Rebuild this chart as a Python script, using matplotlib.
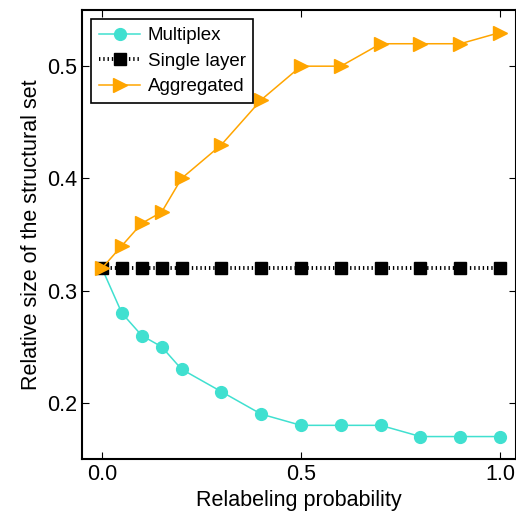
import matplotlib.pyplot as plt

plt.rcParams["font.family"] = ["Liberation Sans", "DejaVu Sans"]

# Data
prob = [0.0, 0.05, 0.1, 0.15, 0.2, 0.3, 0.4, 0.5, 0.6, 0.7, 0.8, 0.9, 1.0]
multiplex = [0.32, 0.28, 0.26, 0.25, 0.23, 0.21, 0.19, 0.18, 0.18, 0.18, 0.17, 0.17, 0.17]
single_layer = [0.32, 0.32, 0.32, 0.32, 0.32, 0.32, 0.32, 0.32, 0.32, 0.32, 0.32, 0.32, 0.32]
aggregated = [0.32, 0.34, 0.36, 0.37, 0.40, 0.43, 0.47, 0.50, 0.50, 0.52, 0.52, 0.52, 0.53]

fig = plt.figure(figsize=(5.16, 5.19), dpi=100)
ax = fig.add_axes([0.159, 0.1156, 0.841, 0.865])

ax.plot(prob, multiplex, color="#40e0d0", marker="o", markersize=8.5,
        linewidth=1.1, label="Multiplex")
ax.plot(prob, single_layer, color="black", marker="s", markersize=8.5,
        linestyle=(0, (0.35, 0.75)), linewidth=2.8, label="Single layer")
ax.plot(prob, aggregated, color="orange", marker=">", markersize=9.5,
        linewidth=1.1, label="Aggregated")

ax.set_xlim(-0.05, 1.04)
ax.set_ylim(0.15, 0.55)
ax.set_xticks([0.0, 0.5, 1.0])
ax.set_yticks([0.2, 0.3, 0.4, 0.5])
ax.tick_params(direction="in", top=True, right=True, labelsize=15.5, length=5)
ax.set_xlabel("Relabeling probability", fontsize=15.5)
ax.set_ylabel("Relative size of the structural set", fontsize=15.5)
for s in ax.spines.values():
    s.set_linewidth(1.5)

leg = ax.legend(loc="upper left", fontsize=13.5, fancybox=False,
                edgecolor="black", framealpha=1, borderaxespad=0.5,
                handlelength=2.2, handletextpad=0.4, labelspacing=0.45)
leg.get_frame().set_linewidth(1.2)

fig.savefig("out.png", dpi=100)
